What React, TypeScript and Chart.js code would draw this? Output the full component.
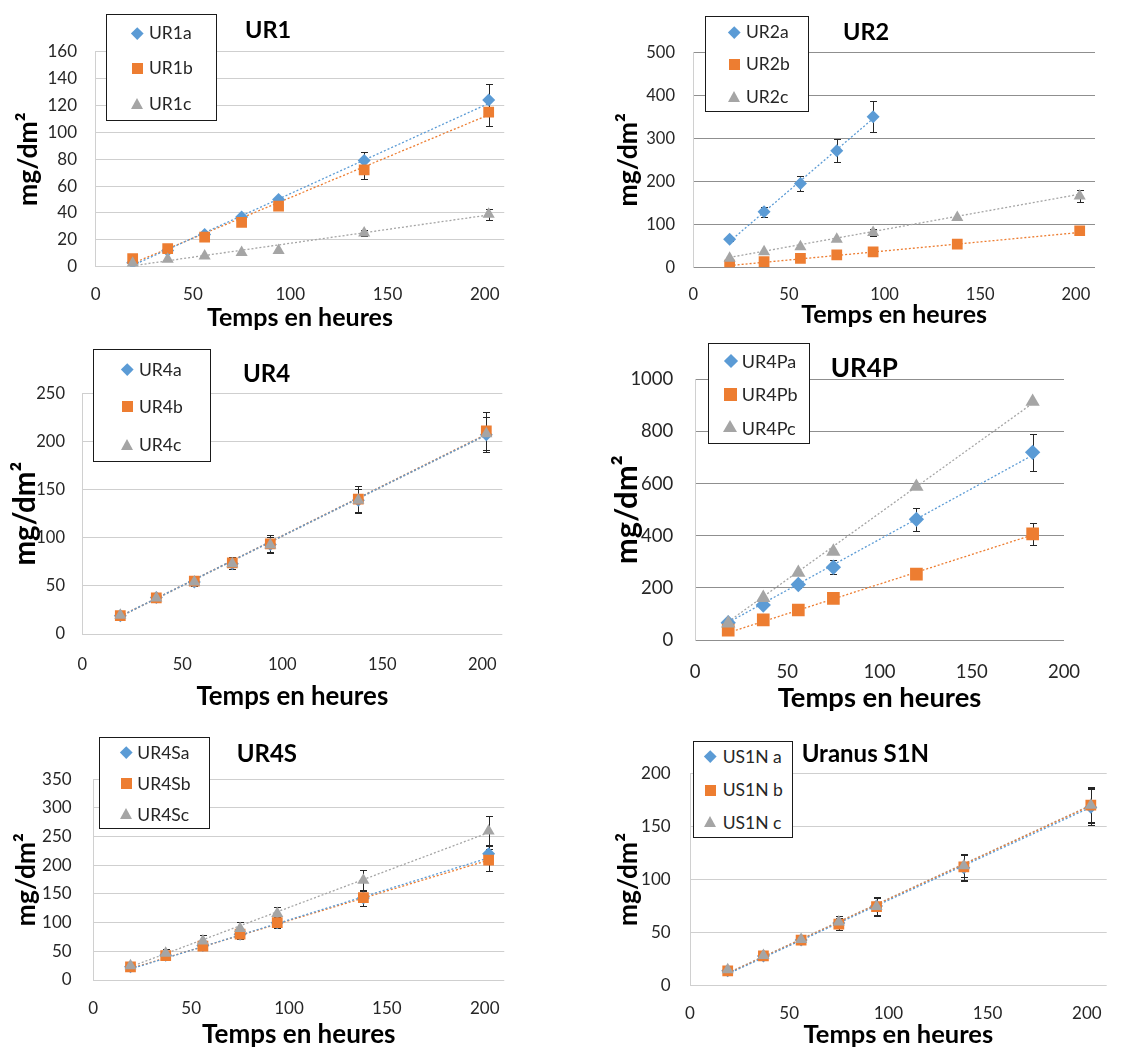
import React, { useEffect, useRef } from 'react';
import { Chart, registerables } from 'chart.js';

Chart.register(...registerables);

const BLUE = '#5B9BD5';
const ORANGE = '#ED7D31';
const GRAY = '#A5A5A5';
const FONT = 'Lato, "Open Sans", sans-serif';

const X_TICKS = [0, 50, 100, 150, 200];

// ---------- UR1 ----------
const UR1_TIMES = [19, 37, 56, 75, 94, 138, 202];
const UR1A = [3, 12, 24, 37, 50, 79, 124];
const UR1A_ERR = [0, 0, 0, 0, 2, 6, 12];
const UR1B = [6, 13.5, 22, 33, 45, 72, 115];
const UR1B_ERR = [0, 0, 0, 0, 0, 7, 10.5];
const UR1C = [2.5, 5.5, 8, 10.5, 12, 25, 39];
const UR1C_ERR = [0, 0, 0, 0, 0, 2, 4];
const UR1_TREND_X = [19, 202];
const UR1A_TREND = [1, 121.5];
const UR1B_TREND = [2.5, 113];
const UR1C_TREND = [0.7, 38.5];

// ---------- UR2 ----------
const UR2_TIMES = [19, 37, 56, 75, 94, 138, 202];
const UR2A_TIMES = [19, 37, 56, 75, 94];
const UR2A = [65, 129, 195, 271, 350];
const UR2A_ERR = [3, 12, 18, 27, 36];
const UR2B = [5, 13, 21, 29, 36, 54, 85];
const UR2B_ERR = [0, 0, 0, 0, 0, 0, 0];
const UR2C = [21, 36, 48, 65, 81, 116, 166];
const UR2C_ERR = [0, 0, 0, 0, 8, 0, 14];
const UR2A_TREND_X = [19, 94];
const UR2A_TREND = [60, 346];
const UR2_TREND_X = [19, 202];
const UR2B_TREND = [4, 81];
const UR2C_TREND = [23, 170];

// ---------- UR4 ----------
const UR4_TIMES = [19, 37, 56, 75, 94, 138, 202];
const UR4A = [19, 38, 54, 73, 93, 139, 207];
const UR4A_ERR = [1, 2, 4, 5, 8, 12, 18];
const UR4B = [19, 37.5, 55, 74, 93.5, 140, 211];
const UR4B_ERR = [0, 0, 0, 6, 9.5, 14, 20];
const UR4C = [19.5, 37.5, 54, 73, 92.5, 139, 208];
const UR4C_ERR = [0, 0, 0, 0, 0, 0, 0];
const UR4_TREND_X = [19, 202];
const UR4A_TREND = [18.5, 207];
const UR4B_TREND = [18.5, 207.5];
const UR4C_TREND = [18, 206.5];

// ---------- UR4P ----------
const UR4P_TIMES = [18, 37, 56, 75, 120, 183];
const UR4PA = [66, 134, 213, 279, 463, 720];
const UR4PA_ERR = [5, 8, 12, 27, 45, 72];
const UR4PB = [38, 77, 115, 160, 253, 407];
const UR4PB_ERR = [0, 0, 0, 0, 20, 41];
const UR4PC = [64, 162, 258, 339, 588, 914];
const UR4PC_ERR = [0, 0, 0, 0, 0, 0];
const UR4P_TREND_X = [18, 183];
const UR4PA_TREND = [67, 709];
const UR4PB_TREND = [28, 403];
const UR4PC_TREND = [70, 908];

// ---------- UR4S ----------
const UR4S_TIMES = [19, 37, 56, 75, 94, 138, 202];
const UR4SA = [23, 43, 60, 80, 100, 143, 220];
const UR4SA_ERR = [0, 5, 8, 8, 10, 14, 15];
const UR4SB = [23, 42.5, 59, 80, 100, 143.5, 209];
const UR4SB_ERR = [0, 0, 0, 0, 10, 14, 19];
const UR4SC = [25, 46.5, 68, 90, 116, 174, 260];
const UR4SC_ERR = [0, 8, 10, 11, 12, 18, 26];
const UR4S_TREND_X = [19, 202];
const UR4SA_TREND = [19, 213];
const UR4SB_TREND = [20, 209];
const UR4SC_TREND = [23, 257];

// ---------- Uranus S1N ----------
const US1N_TIMES = [19, 37, 56, 75, 94, 138, 202];
const US1NA = [14, 28, 43, 59, 75, 111, 168];
const US1NA_ERR = [0, 0, 0, 5, 8, 12, 17];
const US1NB = [14, 28, 43, 58, 74.5, 112, 170];
const US1NB_ERR = [0, 0, 0, 6, 9, 12, 17];
const US1NC = [15, 28.5, 43.5, 60, 74.5, 113, 170];
const US1NC_ERR = [0, 0, 0, 6, 8, 11, 16];
const US1N_TREND_X = [19, 202];
const US1NA_TREND = [11, 168];
const US1NB_TREND = [11.6, 169.5];
const US1NC_TREND = [12, 170];

type Series = {
  label: string;
  x: number[];
  y: number[];
  err: number[];
  trendX: number[];
  trendY: number[];
  color: string;
  style: 'rectRot' | 'rect' | 'triangle';
};

type Spec = {
  title: string;
  titleLeft: number;
  titleCy: number;
  titleSize: number;
  canvas: { left: number; top: number; width: number; height: number };
  area: { l: number; t: number; r: number; b: number };
  xMax: number;
  yMax: number;
  yStep: number;
  tickSize: number;
  yTickPad: number;
  xTickPad: number;
  xTitleSize: number;
  yTitleSize: number;
  yTitleCx: number;
  xTitleCy: number;
  gridColor: string;
  markerScale: number;
  legend: { l: number; t: number; r: number; b: number; rows: number[]; markerX: number; textX: number; fontSize: number };
  series: Series[];
};

const mk = (label: string, x: number[], y: number[], err: number[], trendX: number[], trendY: number[], color: string, style: Series['style']): Series =>
  ({ label, x, y, err, trendX, trendY, color, style });

const SPECS: Spec[] = [
  {
    title: 'UR1', titleLeft: 245, titleCy: 30, titleSize: 23.5,
    canvas: { left: 0, top: 0, width: 520, height: 332 },
    area: { l: 95.7, t: 51.7, r: 507, b: 266.7 },
    xMax: 210, yMax: 160, yStep: 20, tickSize: 17, yTickPad: 18.7, xTickPad: 19.8,
    xTitleSize: 25, yTitleSize: 26.5, yTitleCx: 28, xTitleCy: 318, gridColor: '#cfcfcf', markerScale: 1,
    legend: { l: 106, t: 14, r: 217, b: 121, rows: [33, 68, 104], markerX: 137, textX: 149, fontSize: 17.5 },
    series: [
      mk('UR1a', UR1_TIMES, UR1A, UR1A_ERR, UR1_TREND_X, UR1A_TREND, BLUE, 'rectRot'),
      mk('UR1b', UR1_TIMES, UR1B, UR1B_ERR, UR1_TREND_X, UR1B_TREND, ORANGE, 'rect'),
      mk('UR1c', UR1_TIMES, UR1C, UR1C_ERR, UR1_TREND_X, UR1C_TREND, GRAY, 'triangle'),
    ],
  },
  {
    title: 'UR2', titleLeft: 843, titleCy: 32, titleSize: 23.5,
    canvas: { left: 585, top: 0, width: 545, height: 332 },
    area: { l: 693.3, t: 52.3, r: 1095, b: 267.3 },
    xMax: 210, yMax: 500, yStep: 100, tickSize: 16.5, yTickPad: 18.3, xTickPad: 19.5,
    xTitleSize: 25, yTitleSize: 26.5, yTitleCx: 628, xTitleCy: 315, gridColor: '#8f8f8f', markerScale: 1,
    legend: { l: 705, t: 16, r: 809, b: 112, rows: [32, 64, 97], markerX: 734, textX: 746, fontSize: 17.5 },
    series: [
      mk('UR2a', UR2A_TIMES, UR2A, UR2A_ERR, UR2A_TREND_X, UR2A_TREND, BLUE, 'rectRot'),
      mk('UR2b', UR2_TIMES, UR2B, UR2B_ERR, UR2_TREND_X, UR2B_TREND, ORANGE, 'rect'),
      mk('UR2c', UR2_TIMES, UR2C, UR2C_ERR, UR2_TREND_X, UR2C_TREND, GRAY, 'triangle'),
    ],
  },
  {
    title: 'UR4', titleLeft: 243, titleCy: 372.7, titleSize: 24,
    canvas: { left: 0, top: 335, width: 520, height: 380 },
    area: { l: 82.3, t: 393.3, r: 509, b: 634 },
    xMax: 210, yMax: 250, yStep: 50, tickSize: 16.5, yTickPad: 17.3, xTickPad: 22.8,
    xTitleSize: 25.8, yTitleSize: 29.5, yTitleCx: 25, xTitleCy: 696.7, gridColor: '#cfcfcf', markerScale: 1,
    legend: { l: 93, t: 349.3, r: 211, b: 462.3, rows: [369.3, 406.7, 445], markerX: 127, textX: 139, fontSize: 17.5 },
    series: [
      mk('UR4a', UR4_TIMES, UR4A, UR4A_ERR, UR4_TREND_X, UR4A_TREND, BLUE, 'rectRot'),
      mk('UR4b', UR4_TIMES, UR4B, UR4B_ERR, UR4_TREND_X, UR4B_TREND, ORANGE, 'rect'),
      mk('UR4c', UR4_TIMES, UR4C, UR4C_ERR, UR4_TREND_X, UR4C_TREND, GRAY, 'triangle'),
    ],
  },
  {
    title: 'UR4P', titleLeft: 830.7, titleCy: 366.7, titleSize: 26,
    canvas: { left: 585, top: 335, width: 545, height: 380 },
    area: { l: 695, t: 379.3, r: 1064, b: 640 },
    xMax: 200, yMax: 1000, yStep: 200, tickSize: 18.5, yTickPad: 21.7, xTickPad: 22.5,
    xTitleSize: 27.4, yTitleSize: 31, yTitleCx: 626.7, xTitleCy: 698, gridColor: '#8f8f8f', markerScale: 1.18,
    legend: { l: 707.7, t: 343.3, r: 810, b: 444.3, rows: [361, 394.3, 427.7], markerX: 730.7, textX: 741.7, fontSize: 18 },
    series: [
      mk('UR4Pa', UR4P_TIMES, UR4PA, UR4PA_ERR, UR4P_TREND_X, UR4PA_TREND, BLUE, 'rectRot'),
      mk('UR4Pb', UR4P_TIMES, UR4PB, UR4PB_ERR, UR4P_TREND_X, UR4PB_TREND, ORANGE, 'rect'),
      mk('UR4Pc', UR4P_TIMES, UR4PC, UR4PC_ERR, UR4P_TREND_X, UR4PC_TREND, GRAY, 'triangle'),
    ],
  },
  {
    title: 'UR4S', titleLeft: 236.7, titleCy: 753.3, titleSize: 24,
    canvas: { left: 0, top: 720, width: 520, height: 327 },
    area: { l: 93.3, t: 779.3, r: 505, b: 980 },
    xMax: 210, yMax: 350, yStep: 50, tickSize: 17, yTickPad: 21.6, xTickPad: 19.8,
    xTitleSize: 26, yTitleSize: 26.4, yTitleCx: 26.7, xTitleCy: 1035, gridColor: '#cfcfcf', markerScale: 1,
    legend: { l: 99.3, t: 736.7, r: 210, b: 829.3, rows: [752.7, 783.3, 814.3], markerX: 126, textX: 137.3, fontSize: 17.5 },
    series: [
      mk('UR4Sa', UR4S_TIMES, UR4SA, UR4SA_ERR, UR4S_TREND_X, UR4SA_TREND, BLUE, 'rectRot'),
      mk('UR4Sb', UR4S_TIMES, UR4SB, UR4SB_ERR, UR4S_TREND_X, UR4SB_TREND, ORANGE, 'rect'),
      mk('UR4Sc', UR4S_TIMES, UR4SC, UR4SC_ERR, UR4S_TREND_X, UR4SC_TREND, GRAY, 'triangle'),
    ],
  },
  {
    title: 'Uranus S1N', titleLeft: 801.7, titleCy: 753.3, titleSize: 24,
    canvas: { left: 585, top: 720, width: 545, height: 327 },
    area: { l: 690, t: 773.3, r: 1106.7, b: 985.7 },
    xMax: 210, yMax: 200, yStep: 50, tickSize: 17, yTickPad: 19.3, xTickPad: 19.1,
    xTitleSize: 25.5, yTitleSize: 26.4, yTitleCx: 628.3, xTitleCy: 1035, gridColor: '#cfcfcf', markerScale: 1,
    legend: { l: 693.3, t: 740.7, r: 792.7, b: 837.7, rows: [756.7, 790, 822.7], markerX: 710, textX: 722.7, fontSize: 17.5 },
    series: [
      mk('US1N a', US1N_TIMES, US1NA, US1NA_ERR, US1N_TREND_X, US1NA_TREND, BLUE, 'rectRot'),
      mk('US1N b', US1N_TIMES, US1NB, US1NB_ERR, US1N_TREND_X, US1NB_TREND, ORANGE, 'rect'),
      mk('US1N c', US1N_TIMES, US1NC, US1NC_ERR, US1N_TREND_X, US1NC_TREND, GRAY, 'triangle'),
    ],
  },
];

const errorBarPlugin = {
  id: 'errorBars',
  beforeDatasetsDraw(chart: any) {
    const ctx = chart.ctx;
    const xs = chart.scales.x;
    const ys = chart.scales.y;
    ctx.save();
    ctx.strokeStyle = '#262626';
    ctx.lineWidth = 1;
    chart.data.datasets.forEach((ds: any) => {
      const errs = ds.errors;
      if (!errs) return;
      ds.data.forEach((p: any, i: number) => {
        const e = errs[i];
        if (!e) return;
        const px = Math.round(xs.getPixelForValue(p.x)) + 0.5;
        const top = Math.round(ys.getPixelForValue(p.y + e)) + 0.5;
        const bot = Math.round(ys.getPixelForValue(p.y - e)) + 0.5;
        ctx.beginPath();
        ctx.moveTo(px, top);
        ctx.lineTo(px, bot);
        ctx.moveTo(px - 3.5, top);
        ctx.lineTo(px + 3.5, top);
        ctx.moveTo(px - 3.5, bot);
        ctx.lineTo(px + 3.5, bot);
        ctx.stroke();
      });
    });
    ctx.restore();
  },
};

const RADIUS: Record<string, number> = { rectRot: 6.5, rect: 7.6, triangle: 7 };

function Panel({ spec }: { spec: Spec }) {
  const ref = useRef<HTMLCanvasElement>(null);
  useEffect(() => {
    const c = spec.canvas;
    const a = spec.area;
    const datasets: any[] = [];
    spec.series.forEach((s, i) => {
      datasets.push({
        type: 'line',
        label: s.label + ' trend',
        data: s.trendX.map((x, k) => ({ x, y: s.trendY[k] })),
        borderColor: s.color,
        borderWidth: 1.3,
        borderDash: [2, 2],
        pointRadius: 0,
        fill: false,
        order: 10 + i,
      });
    });
    spec.series.forEach((s, i) => {
      datasets.push({
        type: 'scatter',
        label: s.label,
        data: s.x.map((x, k) => ({ x, y: s.y[k] })),
        errors: s.err,
        pointStyle: s.style,
        pointRadius: RADIUS[s.style] * spec.markerScale,
        backgroundColor: s.color,
        borderColor: s.color,
        borderWidth: 0,
        showLine: false,
        order: 3 - i,
      });
    });
    const yTitlePad = spec.yTitleCx - c.left - spec.yTitleSize / 2;
    const xTitlePad = c.top + c.height - spec.xTitleCy - spec.xTitleSize / 2;
    const chart = new Chart(ref.current as HTMLCanvasElement, {
      type: 'scatter',
      data: { datasets },
      options: {
        responsive: false,
        animation: false,
        layout: { padding: { left: 0, top: a.t - c.top, right: c.left + c.width - a.r, bottom: 0 } },
        plugins: { legend: { display: false }, tooltip: { enabled: false } },
        scales: {
          x: {
            type: 'linear',
            min: 0,
            max: spec.xMax,
            afterBuildTicks: (scale: any) => {
              scale.ticks = X_TICKS.filter((v) => v <= spec.xMax).map((v) => ({ value: v }));
            },
            afterFit: (scale: any) => {
              scale.height = c.top + c.height - a.b;
            },
            ticks: {
              autoSkip: false,
              maxRotation: 0,
              padding: spec.xTickPad,
              color: '#262626',
              callback: (v: any) => String(v),
              font: { family: FONT, size: spec.tickSize, lineHeight: 1 },
            },
            grid: { display: false, drawTicks: false },
            border: { display: false },
            title: {
              display: true,
              text: 'Temps en heures',
              color: '#000',
              font: { family: FONT, size: spec.xTitleSize, weight: 'bold', lineHeight: 1 },
              padding: { top: 0, bottom: xTitlePad },
            },
          },
          y: {
            type: 'linear',
            min: 0,
            max: spec.yMax,
            afterFit: (scale: any) => {
              scale.width = a.l - c.left;
            },
            ticks: {
              stepSize: spec.yStep,
              padding: spec.yTickPad,
              color: '#262626',
              callback: (v: any) => String(v),
              font: { family: FONT, size: spec.tickSize, lineHeight: 1 },
            },
            grid: { color: spec.gridColor, lineWidth: 1, drawTicks: false },
            border: { display: true, color: '#d0d0d0', width: 1 },
            title: {
              display: true,
              text: 'mg/dm²',
              color: '#000',
              font: { family: FONT, size: spec.yTitleSize, weight: 'bold', lineHeight: 1 },
              padding: { top: yTitlePad, bottom: 0 },
            },
          },
        },
      } as any,
      plugins: [errorBarPlugin],
    });
    return () => chart.destroy();
  }, [spec]);

  const c = spec.canvas;
  const L = spec.legend;
  return (
    <>
      <canvas
        ref={ref}
        width={c.width}
        height={c.height}
        style={{ position: 'absolute', left: c.left, top: c.top, width: c.width, height: c.height }}
      />
      <div
        style={{
          position: 'absolute',
          left: spec.titleLeft,
          top: spec.titleCy - spec.titleSize / 2,
          fontFamily: FONT,
          fontWeight: 'bold',
          fontSize: spec.titleSize,
          lineHeight: `${spec.titleSize}px`,
          color: '#000',
          whiteSpace: 'nowrap',
        }}
      >
        {spec.title}
      </div>
      <div
        style={{
          position: 'absolute',
          left: L.l,
          top: L.t,
          width: L.r - L.l,
          height: L.b - L.t,
          boxSizing: 'border-box',
          border: '1.3px solid #1a1a1a',
          background: '#fff',
        }}
      />
      {spec.series.map((s, i) => {
        const cy = L.rows[i];
        const m = spec.markerScale;
        let marker: any;
        if (s.style === 'rectRot') {
          const d = 8.5 * m;
          marker = { left: L.markerX - d / 2, top: cy - d / 2, width: d, height: d, background: s.color, transform: 'rotate(45deg)' };
        } else if (s.style === 'rect') {
          const d = 11 * m;
          marker = { left: L.markerX - d / 2, top: cy - d / 2, width: d, height: d, background: s.color };
        } else {
          const w = 6.5 * m;
          const h = 11 * m;
          marker = {
            left: L.markerX - w,
            top: cy - h / 2 - 1,
            width: 0,
            height: 0,
            borderLeft: `${w}px solid transparent`,
            borderRight: `${w}px solid transparent`,
            borderBottom: `${h}px solid ${s.color}`,
          };
        }
        return (
          <React.Fragment key={s.label}>
            <div style={{ position: 'absolute', ...marker }} />
            <div
              style={{
                position: 'absolute',
                left: L.textX,
                top: cy - L.fontSize / 2,
                fontFamily: FONT,
                fontSize: L.fontSize,
                lineHeight: `${L.fontSize}px`,
                color: '#262626',
                whiteSpace: 'nowrap',
              }}
            >
              {s.label}
            </div>
          </React.Fragment>
        );
      })}
    </>
  );
}

export default function App() {
  return (
    <div style={{ position: 'absolute', left: 0, top: 0, width: 1130, height: 1047, background: '#fff', overflow: 'hidden' }}>
      {SPECS.map((s) => (
        <Panel key={s.title} spec={s} />
      ))}
    </div>
  );
}
